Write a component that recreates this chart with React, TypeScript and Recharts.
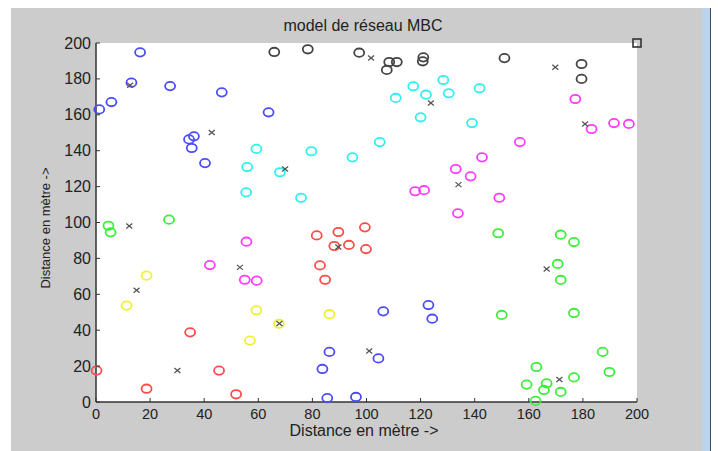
import { Scatter, ScatterChart, XAxis, YAxis } from 'recharts'

type Pt = { x: number; y: number }

const axisTicks = [0, 20, 40, 60, 80, 100, 120, 140, 160, 180, 200]

// noeuds par cluster
const blueTop: Pt[] = [
  { x: 16.3, y: 194.8 }, { x: 13.1, y: 177.9 }, { x: 27.4, y: 176 }, { x: 46.5, y: 172.5 },
  { x: 5.7, y: 167.1 }, { x: 1.2, y: 163 }, { x: 63.8, y: 161.4 }, { x: 34.4, y: 146.3 },
  { x: 36.2, y: 148 }, { x: 35.4, y: 141.5 }, { x: 40.3, y: 133.1 },
]
const blueBottom: Pt[] = [
  { x: 106.2, y: 50.5 }, { x: 122.9, y: 54 }, { x: 124.3, y: 46.4 }, { x: 86.3, y: 27.9 },
  { x: 104.4, y: 24.3 }, { x: 83.7, y: 18.4 }, { x: 85.5, y: 2.2 }, { x: 96.1, y: 2.8 },
]
const cyanNodes: Pt[] = [
  { x: 59.3, y: 141 }, { x: 55.9, y: 130.9 }, { x: 68, y: 128 }, { x: 55.5, y: 116.8 },
  { x: 128.4, y: 179.4 }, { x: 117.3, y: 175.9 }, { x: 122, y: 171.2 }, { x: 130.4, y: 172 },
  { x: 110.8, y: 169.4 }, { x: 120, y: 158.6 }, { x: 104.9, y: 144.8 }, { x: 79.6, y: 139.7 },
  { x: 94.8, y: 136.3 }, { x: 75.8, y: 113.8 }, { x: 141.8, y: 174.8 }, { x: 139, y: 155.4 },
]
const blackNodes: Pt[] = [
  { x: 65.9, y: 195 }, { x: 78.3, y: 196.5 }, { x: 97.3, y: 194.6 }, { x: 108.4, y: 189.4 },
  { x: 111.2, y: 189.4 }, { x: 107.5, y: 185 }, { x: 121, y: 192 }, { x: 120.8, y: 189.8 },
  { x: 151, y: 191.6 }, { x: 179.5, y: 188.3 }, { x: 179.5, y: 180 },
]
const magentaNodes: Pt[] = [
  { x: 133, y: 129.8 }, { x: 118, y: 117.4 }, { x: 121.3, y: 118 }, { x: 133.8, y: 105.1 },
  { x: 177.2, y: 168.8 }, { x: 183.2, y: 152.1 }, { x: 191.5, y: 155.4 }, { x: 197, y: 154.9 },
  { x: 156.7, y: 144.8 }, { x: 142.7, y: 136.3 }, { x: 138.5, y: 125.7 }, { x: 149.1, y: 113.8 },
  { x: 55.6, y: 89.3 }, { x: 42.1, y: 76.3 }, { x: 55, y: 68.1 }, { x: 59.4, y: 67.6 },
]
const redNodes: Pt[] = [
  { x: 81.6, y: 92.8 }, { x: 89.6, y: 94.7 }, { x: 99.4, y: 97.3 }, { x: 88.1, y: 86.9 },
  { x: 93.5, y: 87.5 }, { x: 99.8, y: 85.2 }, { x: 82.8, y: 76.1 }, { x: 84.7, y: 68.1 },
  { x: 34.8, y: 38.8 }, { x: 0.2, y: 17.5 }, { x: 45.5, y: 17.5 }, { x: 18.7, y: 7.4 },
  { x: 51.8, y: 4.3 },
]
const yellowNodes: Pt[] = [
  { x: 18.7, y: 70.4 }, { x: 11.3, y: 53.7 }, { x: 59.3, y: 51.1 }, { x: 67.6, y: 43.6 },
  { x: 56.9, y: 34.2 }, { x: 86.3, y: 48.9 },
]
const greenNodes: Pt[] = [
  { x: 4.6, y: 98.2 }, { x: 5.4, y: 94.5 }, { x: 27, y: 101.6 }, { x: 148.7, y: 94 },
  { x: 171.8, y: 93.2 }, { x: 176.7, y: 89.1 }, { x: 170.7, y: 76.9 }, { x: 171.8, y: 68 },
  { x: 150, y: 48.5 }, { x: 176.7, y: 49.6 }, { x: 187.3, y: 27.9 }, { x: 189.8, y: 16.7 },
  { x: 162.8, y: 19.5 }, { x: 176.7, y: 13.7 }, { x: 166.6, y: 10.4 }, { x: 159.2, y: 9.7 },
  { x: 165.6, y: 6.7 }, { x: 171.8, y: 5.6 }, { x: 162.5, y: 0.6 },
]
// chefs de cluster (x)
const clusterHeads: Pt[] = [
  { x: 12.6, y: 176.4 }, { x: 42.8, y: 150.2 }, { x: 69.9, y: 129.8 }, { x: 101.7, y: 191.6 },
  { x: 123.8, y: 166.6 }, { x: 169.8, y: 186.5 }, { x: 180.8, y: 154.9 }, { x: 134, y: 121.1 },
  { x: 12.3, y: 98 }, { x: 53.2, y: 75 }, { x: 15, y: 62.2 }, { x: 67.8, y: 43.8 },
  { x: 30.1, y: 17.5 }, { x: 89.6, y: 86.4 }, { x: 101, y: 28.4 }, { x: 166.6, y: 74.1 },
  { x: 171.3, y: 12.6 },
]
const sink: Pt[] = [{ x: 200, y: 200 }]

const PLOT = { left: 96, top: 43, right: 637, bottom: 402 }
const W = 718
const H = 451
const FONT = '"Liberation Sans", Arial, sans-serif'
const TEXT = '#222'

const ring = (color: string) => (p: any) => (
  <ellipse cx={p.cx} cy={p.cy} rx={5} ry={4.2} fill="none" stroke={color} strokeWidth={1.8} />
)

const cross = (p: any) => (
  <g stroke="#555" strokeWidth={1.3}>
    <line x1={p.cx - 3} y1={p.cy - 2.5} x2={p.cx + 3} y2={p.cy + 2.5} />
    <line x1={p.cx - 3} y1={p.cy + 2.5} x2={p.cx + 3} y2={p.cy - 2.5} />
  </g>
)

const square = (p: any) => (
  <rect x={p.cx - 4} y={p.cy - 4} width={8} height={8} fill="none" stroke="#333" strokeWidth={1.6} />
)

const XTick = (p: any) => (
  <g>
    <line x1={p.x} x2={p.x} y1={PLOT.bottom} y2={PLOT.bottom - 4} stroke="#333" />
    <text x={p.x} y={PLOT.bottom + 17} textAnchor="middle" fontSize={14.5} fontFamily={FONT} fill={TEXT}>
      {p.payload.value}
    </text>
  </g>
)

const YTick = (p: any) => (
  <g>
    <line x1={PLOT.left} x2={PLOT.left + 4} y1={p.y} y2={p.y} stroke="#333" />
    <text x={PLOT.left - 5} y={p.y + 5.5} textAnchor="end" fontSize={16} fontFamily={FONT} fill={TEXT}>
      {p.payload.value}
    </text>
  </g>
)

export default function App() {
  return (
    <div style={{ position: 'fixed', left: 0, top: 0, width: W, height: H, background: '#fff', overflow: 'hidden' }}>
      <div style={{ position: 'absolute', left: 11, top: 8, width: 691, height: H - 8, background: '#cccccc' }} />
      <div style={{ position: 'absolute', left: 702, top: 8, width: 8, height: H - 8, background: '#bad3ea' }} />
      <div style={{ position: 'absolute', left: 710, top: 8, width: 1, height: H - 8, background: '#3b4b62' }} />
      <div
        style={{
          position: 'absolute',
          left: PLOT.left,
          top: PLOT.top,
          width: PLOT.right - PLOT.left,
          height: PLOT.bottom - PLOT.top,
          background: '#fff',
        }}
      />
      <div style={{ position: 'absolute', left: 0, top: 17, width: 726, textAlign: 'center', fontFamily: FONT, fontSize: 16, color: TEXT }}>
        model de réseau MBC
      </div>
      <div style={{ position: 'absolute', left: 0, top: 422, width: 728, textAlign: 'center', fontFamily: FONT, fontSize: 16, color: TEXT }}>
        Distance en mètre -&gt;
      </div>
      <div
        style={{
          position: 'absolute',
          left: 45,
          top: 228,
          transform: 'translate(-50%, -50%) rotate(-90deg)',
          whiteSpace: 'nowrap',
          fontFamily: FONT,
          fontSize: 13,
          color: TEXT,
        }}
      >
        Distance en mètre -&gt;
      </div>
      <div style={{ position: 'absolute', left: 0, top: 0 }}>
        <ScatterChart
          width={W}
          height={H}
          margin={{ top: PLOT.top, right: W - PLOT.right, bottom: H - PLOT.bottom - 30, left: PLOT.left - 40 }}
        >
          <XAxis
            type="number"
            dataKey="x"
            domain={[0, 200]}
            ticks={axisTicks}
            interval={0}
            height={30}
            tickLine={false}
            tick={XTick}
            axisLine={{ stroke: '#333', strokeWidth: 1.5 }}
          />
          <YAxis
            type="number"
            dataKey="y"
            domain={[0, 200]}
            ticks={axisTicks}
            interval={0}
            width={40}
            tickLine={false}
            tick={YTick}
            axisLine={{ stroke: '#333', strokeWidth: 1.5 }}
          />
          <Scatter data={blueTop} shape={ring('#4b4bff')} isAnimationActive={false} />
          <Scatter data={blueBottom} shape={ring('#4b4bff')} isAnimationActive={false} />
          <Scatter data={cyanNodes} shape={ring('#2ff0f0')} isAnimationActive={false} />
          <Scatter data={blackNodes} shape={ring('#444')} isAnimationActive={false} />
          <Scatter data={magentaNodes} shape={ring('#ff3cff')} isAnimationActive={false} />
          <Scatter data={redNodes} shape={ring('#ff4b4b')} isAnimationActive={false} />
          <Scatter data={yellowNodes} shape={ring('#f0f032')} isAnimationActive={false} />
          <Scatter data={greenNodes} shape={ring('#3cee3c')} isAnimationActive={false} />
          <Scatter data={clusterHeads} shape={cross} isAnimationActive={false} />
          <Scatter data={sink} shape={square} isAnimationActive={false} />
        </ScatterChart>
      </div>
    </div>
  )
}
